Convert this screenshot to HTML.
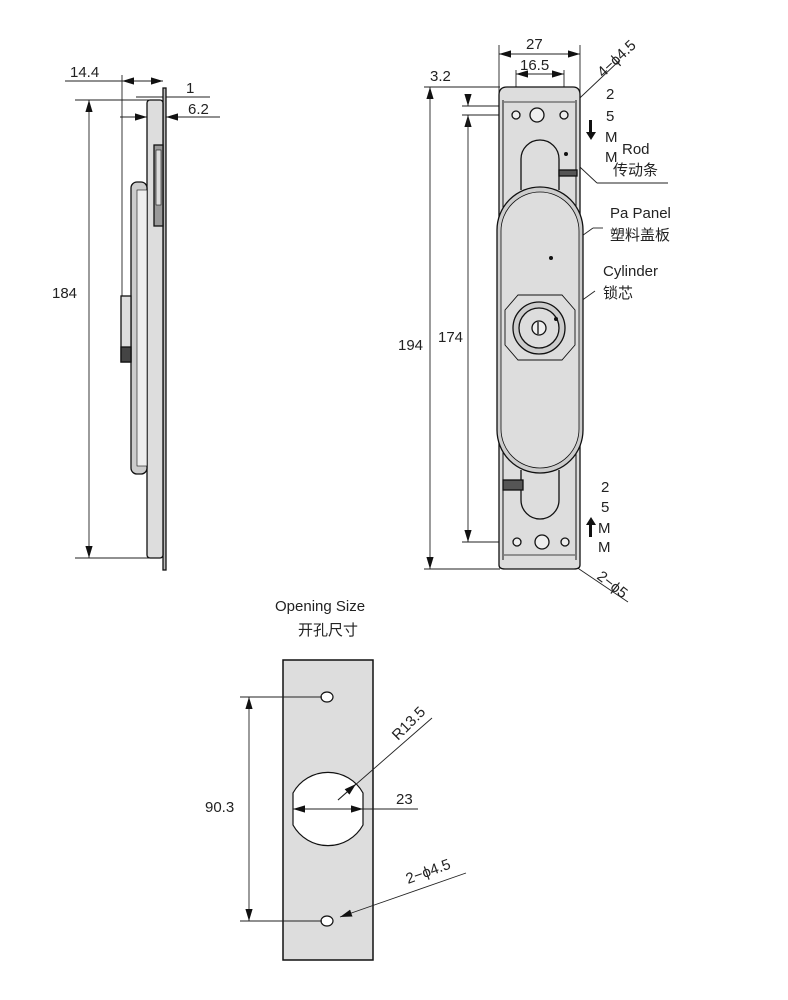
<!DOCTYPE html>
<html><head><meta charset="utf-8"><style>
html,body{margin:0;padding:0;background:#fff}
svg{display:block}
text{font-family:"Liberation Sans","Noto Sans CJK SC",sans-serif;fill:#222;font-size:15px}
</style></head><body>
<svg width="788" height="1000" viewBox="0 0 788 1000" xmlns="http://www.w3.org/2000/svg">
<defs>
<marker id="a" viewBox="0 0 10 10" refX="10" refY="5" markerWidth="12" markerHeight="12" markerUnits="userSpaceOnUse" orient="auto-start-reverse"><path d="M0,2 L10,5 L0,8 z" fill="#111"/></marker>
</defs>
<g stroke="#222" stroke-width="0.9" fill="none">
<!-- LEFT side view -->
<line x1="75" y1="100" x2="150" y2="100"/>
<line x1="75" y1="558" x2="150" y2="558"/>
<line x1="89" y1="100" x2="89" y2="558" marker-start="url(#a)" marker-end="url(#a)"/>
<line x1="122" y1="75" x2="122" y2="296"/>
<line x1="122" y1="81" x2="163" y2="81" marker-start="url(#a)" marker-end="url(#a)"/>
<line x1="65" y1="81" x2="122" y2="81"/>
<line x1="136" y1="97" x2="210" y2="97"/>
<line x1="120" y1="117" x2="220" y2="117"/>
<line x1="133" y1="117" x2="147" y2="117" marker-end="url(#a)"/>
<line x1="185" y1="117" x2="166" y2="117" marker-end="url(#a)"/>
</g>
<g stroke="#111" stroke-width="1.3">
<rect x="163" y="88" width="3" height="482" fill="#bbb"/>
<rect x="147" y="100" width="16" height="458" rx="3" fill="#ddd"/>
<rect x="154" y="145" width="9" height="81" fill="#999"/>
<rect x="156" y="150" width="5" height="55" fill="#ddd" stroke-width="0.6"/>
<rect x="131" y="182" width="16" height="292" rx="6" fill="#ccc"/>
<rect x="137" y="190" width="10" height="276" fill="#eee" stroke-width="0.6"/>
<rect x="121" y="296" width="10" height="66" fill="#ddd"/>
<rect x="121" y="347" width="10" height="15" fill="#444"/>
</g>
<text x="70" y="77">14.4</text>
<text x="186" y="93">1</text>
<text x="188" y="114">6.2</text>
<text x="52" y="298">184</text>

<!-- FRONT view dims -->
<g stroke="#222" stroke-width="0.9" fill="none">
<line x1="499" y1="45" x2="499" y2="100"/>
<line x1="580" y1="45" x2="580" y2="100"/>
<line x1="499" y1="54" x2="580" y2="54" marker-start="url(#a)" marker-end="url(#a)"/>
<line x1="516" y1="70" x2="516" y2="112"/>
<line x1="564" y1="70" x2="564" y2="112"/>
<line x1="516" y1="74" x2="564" y2="74" marker-start="url(#a)" marker-end="url(#a)"/>
<line x1="424" y1="87" x2="500" y2="87"/>
<line x1="430" y1="87" x2="430" y2="569" marker-start="url(#a)" marker-end="url(#a)"/>
<line x1="424" y1="569" x2="500" y2="569"/>
<line x1="462" y1="106" x2="540" y2="106"/>
<line x1="462" y1="115" x2="540" y2="115"/>
<line x1="468" y1="94" x2="468" y2="106" marker-end="url(#a)"/>
<line x1="468" y1="127" x2="468" y2="115" marker-end="url(#a)"/>
<line x1="468" y1="115" x2="468" y2="542" marker-end="url(#a)"/>
<line x1="462" y1="542" x2="540" y2="542"/>
<line x1="565" y1="112" x2="620" y2="60"/>
<line x1="566" y1="154" x2="597" y2="183"/><line x1="597" y1="183" x2="668" y2="183"/>
<line x1="551" y1="258" x2="593" y2="228"/><line x1="593" y1="228" x2="603" y2="228"/>
<line x1="556" y1="319" x2="595" y2="291"/>
<line x1="545" y1="546" x2="628" y2="602"/>
</g>
<g stroke="#111" stroke-width="1.3">
<path d="M499,95 Q499,87 507,87 L573,87 Q580,87 580,95 L580,565 Q580,569 574,569 L505,569 Q499,569 499,565 Z" fill="#ddd"/>
<line x1="503" y1="100" x2="503" y2="560" stroke-width="1"/>
<line x1="576" y1="100" x2="576" y2="560" stroke-width="1"/>
<line x1="504" y1="102" x2="575" y2="102" stroke-width="0.8"/>
<line x1="504" y1="555" x2="575" y2="555" stroke-width="0.8"/>
<path d="M521,190 L521,159 A19,19 0 0 1 559,159 L559,190" fill="#ddd"/>
<path d="M521,470 L521,500 A19,19 0 0 0 559,500 L559,470" fill="#ddd"/>
<rect x="559" y="170" width="18" height="6" fill="#555"/>
<rect x="503" y="480" width="20" height="10" fill="#555"/>
<circle cx="516" cy="115" r="4" fill="#eee"/>
<circle cx="564" cy="115" r="4" fill="#eee"/>
<circle cx="537" cy="115" r="7" fill="#eee"/>
<circle cx="517" cy="542" r="4" fill="#eee"/>
<circle cx="565" cy="542" r="4" fill="#eee"/>
<circle cx="542" cy="542" r="7" fill="#eee"/>
<rect x="497" y="187" width="86" height="286" rx="43" fill="#ccc"/>
<rect x="501" y="192" width="78" height="276" rx="39" fill="#ddd" stroke-width="0.8"/>
<path d="M505,310 L518,295 L562,295 L575,310 L575,345 L562,360 L518,360 L505,345 Z" fill="#ddd" stroke-width="0.9"/>
<circle cx="539" cy="328" r="26" fill="#ccc"/>
<circle cx="539" cy="328" r="20" fill="#ddd"/>
<circle cx="539" cy="328" r="7" fill="#eee"/>
<line x1="538" y1="322" x2="538" y2="334"/>
</g>
<g fill="#111">
<circle cx="566" cy="154" r="2"/><circle cx="551" cy="258" r="2"/><circle cx="556" cy="319" r="2"/>
<path d="M589,120 h3 v12 h4 l-5,8 l-5,-8 h3z"/>
<path d="M589,537 h3 v-12 h4 l-5,-8 l-5,8 h3z"/>
</g>
<text x="526" y="49">27</text>
<text x="520" y="70">16.5</text>
<text x="430" y="81">3.2</text>
<text x="438" y="342">174</text>
<text x="398" y="350">194</text>
<text x="603" y="78" transform="rotate(-43 603 78)">4−ϕ4.5</text>
<text x="606" y="99">2</text><text x="606" y="121">5</text><text x="605" y="142">M</text><text x="605" y="162">M</text>
<text x="622" y="154">Rod</text><text x="613" y="175">传动条</text>
<text x="610" y="218">Pa Panel</text><text x="610" y="240">塑料盖板</text>
<text x="603" y="276">Cylinder</text><text x="603" y="298">锁芯</text>
<text x="601" y="492">2</text><text x="601" y="512">5</text><text x="598" y="533">M</text><text x="598" y="552">M</text>
<text x="596" y="578" transform="rotate(38 596 578)">2−ϕ5</text>

<!-- Opening -->
<text x="275" y="611">Opening Size</text>
<text x="298" y="635">开孔尺寸</text>
<rect x="283" y="660" width="90" height="300" fill="#ddd" stroke="#111" stroke-width="1.5"/>
<g stroke="#111" stroke-width="1.2" fill="#fff">
<ellipse cx="327" cy="697" rx="6" ry="5"/>
<ellipse cx="327" cy="921" rx="6" ry="5"/>
<path d="M293,793 A40,40 0 0 1 363,793 L363,825 A40,40 0 0 1 293,825 Z"/>
</g>
<g stroke="#222" stroke-width="0.9" fill="none">
<line x1="240" y1="697" x2="322" y2="697"/>
<line x1="240" y1="921" x2="322" y2="921"/>
<line x1="249" y1="697" x2="249" y2="921" marker-start="url(#a)" marker-end="url(#a)"/>
<line x1="293" y1="809" x2="363" y2="809" marker-start="url(#a)" marker-end="url(#a)"/>
<line x1="363" y1="809" x2="418" y2="809"/>
<line x1="338" y1="800" x2="432" y2="718"/>
<line x1="338" y1="800" x2="356" y2="784" marker-end="url(#a)"/>
<line x1="466" y1="873" x2="340" y2="917" marker-end="url(#a)"/>
</g>
<text x="396" y="804">23</text>
<text x="205" y="812">90.3</text>
<text x="398" y="741" transform="rotate(-45 398 741)">R13.5</text>
<text x="408" y="884" transform="rotate(-20 408 884)">2−ϕ4.5</text>
</svg>
</body></html>
